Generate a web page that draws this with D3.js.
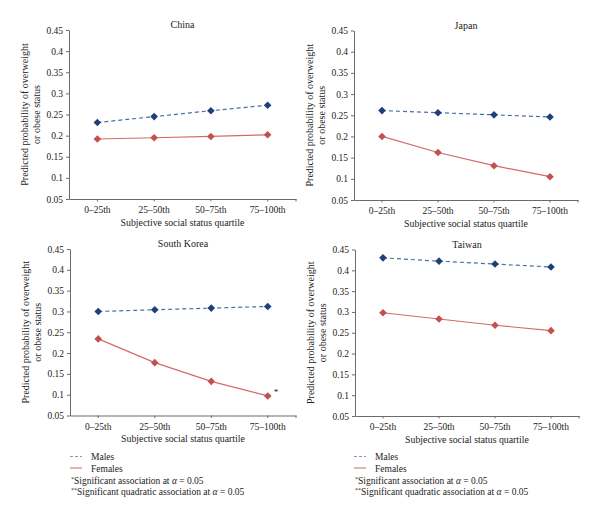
<!DOCTYPE html>
<html><head><meta charset="utf-8">
<script src="https://cdn.jsdelivr.net/npm/d3@7"></script>
<style>
body{margin:0;background:#fff;}
svg{display:block;font-family:"Liberation Serif","DejaVu Serif",serif;}
</style></head>
<body>
<script>
const categories = ["0–25th","25–50th","50–75th","75–100th"];
const yTicks = [0.05,0.1,0.15,0.2,0.25,0.3,0.35,0.4,0.45];
const countries = ["China","Japan","South Korea","Taiwan"];
const malesChina = [0.231,0.245,0.259,0.272];
const femalesChina = [0.192,0.195,0.198,0.202];
const malesJapan = [0.261,0.256,0.251,0.246];
const femalesJapan = [0.200,0.162,0.131,0.105];
const malesKorea = [0.300,0.304,0.308,0.312];
const femalesKorea = [0.234,0.177,0.132,0.097];
const malesTaiwan = [0.430,0.422,0.415,0.408];
const femalesTaiwan = [0.298,0.283,0.268,0.255];
const significance = {"South Korea":[null,null,null,"*"]};

const males = [malesChina, malesJapan, malesKorea, malesTaiwan];
const females = [femalesChina, femalesJapan, femalesKorea, femalesTaiwan];

const W=600,H=518;
const svg=d3.select("body").append("svg").attr("width",W).attr("height",H);

const layouts=[
  {x0:69,x1:296,y0:30,y1:199},
  {x0:354,x1:578,y0:30.5,y1:200},
  {x0:70,x1:296,y0:249,y1:415.5},
  {x0:355,x1:579,y0:249.5,y1:416}
];
const axisColor="#6b6b6b";
const maleMarker="#1f3f78", maleLine="#4d6fa3";
const femMarker="#c2504f", femLine="#d46a6a";
const diamond="M0,-3.8L3.8,0L0,3.8L-3.8,0Z";

countries.forEach((c,i)=>{
  const L=layouts[i];
  const g=svg.append("g");
  const x=d3.scaleBand().domain(categories).range([L.x0,L.x1]);
  const y=d3.scaleLinear().domain([0.05,0.45]).range([L.y1,L.y0]);
  const cx=d=>x(d)+x.bandwidth()/2;

  const ya=g.append("g").attr("transform",`translate(${L.x0},0)`)
    .call(d3.axisLeft(y).tickValues(yTicks).tickSize(3).tickSizeOuter(0).tickFormat(d=>d3.format("")(+d.toFixed(2))));
  ya.select(".domain").attr("stroke",axisColor);
  ya.selectAll(".tick line").attr("stroke",axisColor);
  ya.selectAll(".tick text").attr("font-size",9.5).attr("fill","#222").attr("font-family","Liberation Serif").attr("x",-6);

  const xa=g.append("g").attr("transform",`translate(0,${L.y1})`)
    .call(d3.axisBottom(x).tickSize(2.5).tickSizeOuter(0));
  xa.select(".domain").attr("stroke",axisColor);
  xa.selectAll(".tick line").attr("stroke",axisColor);
  xa.selectAll(".tick text").attr("font-size",9.5).attr("fill","#222").attr("font-family","Liberation Serif").attr("dy","0.9em");
  g.append("line").attr("x1",L.x1).attr("x2",L.x1).attr("y1",L.y1).attr("y2",L.y1+2.5).attr("stroke",axisColor);

  const mid=(L.x0+L.x1)/2;
  g.append("text").attr("x",mid).attr("y",L.y0-2).attr("text-anchor","middle")
    .attr("font-size",10).attr("fill","#222").text(c);
  g.append("text").attr("x",mid).attr("y",L.y1+26.5).attr("text-anchor","middle")
    .attr("font-size",9.8).attr("fill","#222").text("Subjective social status quartile");
  const ym=(L.y0+L.y1)/2;
  const yt=g.append("text").attr("transform",`translate(${L.x0-41},${ym}) rotate(-90)`)
    .attr("text-anchor","middle").attr("font-size",10).attr("fill","#222");
  yt.append("tspan").attr("x",0).attr("dy",0).text("Predicted probability of overweight");
  yt.append("tspan").attr("x",0).attr("dy","1.2em").text("or obese status");

  const line=d3.line().x((d,j)=>cx(categories[j])).y(d=>y(d));
  g.append("path").datum(males[i]).attr("d",line).attr("fill","none")
    .attr("stroke",maleLine).attr("stroke-width",1.2).attr("stroke-dasharray","4,3");
  g.append("path").datum(females[i]).attr("d",line).attr("fill","none")
    .attr("stroke",femLine).attr("stroke-width",1.2);
  g.selectAll(".mm").data(males[i]).join("path")
    .attr("transform",(d,j)=>`translate(${cx(categories[j])},${y(d)})`)
    .attr("d",diamond).attr("fill",maleMarker);
  g.selectAll(".fm").data(females[i]).join("path")
    .attr("transform",(d,j)=>`translate(${cx(categories[j])},${y(d)})`)
    .attr("d",diamond).attr("fill",femMarker);
  const sig=significance[c];
  if(sig){
    sig.forEach((s,j)=>{ if(s){
      g.append("text").attr("x",cx(categories[j])+6).attr("y",y(females[i][j])-1)
        .attr("font-size",9).attr("fill","#222").text(s);
    }});
  }
});

const legendX=[70,354];
legendX.forEach(lx=>{
  const g=svg.append("g");
  g.append("line").attr("x1",lx).attr("x2",lx+12).attr("y1",456.5).attr("y2",456.5)
    .attr("stroke","#7f9cc8").attr("stroke-dasharray","3,2").attr("stroke-width",1);
  g.append("text").attr("x",lx+21).attr("y",460).attr("font-size",9.5).attr("fill","#222").text("Males");
  g.append("line").attr("x1",lx).attr("x2",lx+12).attr("y1",468).attr("y2",468)
    .attr("stroke","#d68a8a").attr("stroke-width",1.3);
  g.append("text").attr("x",lx+21).attr("y",471.5).attr("font-size",9.5).attr("fill","#222").text("Females");
  const t1=g.append("text").attr("x",lx+1).attr("y",483.5).attr("font-size",9.5).attr("fill","#222");
  t1.append("tspan").attr("font-size",6).attr("dy",-3).text("*");
  t1.append("tspan").attr("dy",3).text("Significant association at ");
  t1.append("tspan").attr("font-style","italic").text("α");
  t1.append("tspan").text(" = 0.05");
  const t2=g.append("text").attr("x",lx+1).attr("y",495).attr("font-size",9.5).attr("fill","#222");
  t2.append("tspan").attr("font-size",6).attr("dy",-3).text("**");
  t2.append("tspan").attr("dy",3).text("Significant quadratic association at ");
  t2.append("tspan").attr("font-style","italic").text("α");
  t2.append("tspan").text(" = 0.05");
});
</script>
</body></html>
